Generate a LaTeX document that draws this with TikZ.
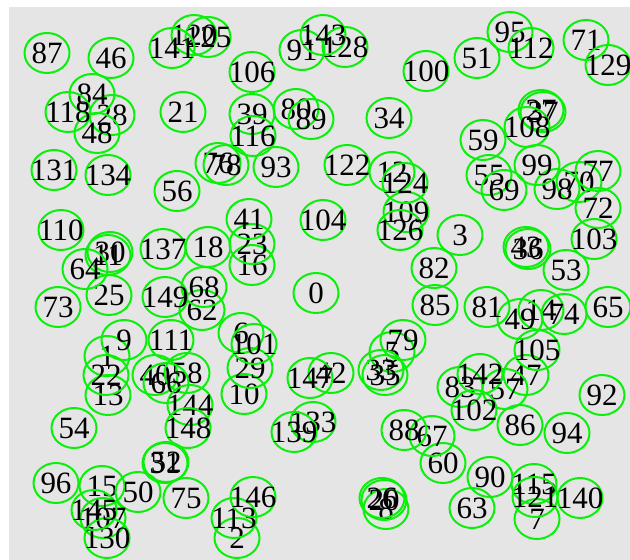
\documentclass[tikz,border=0pt]{standalone}
\usepackage{fontspec}
\setmainfont{Liberation Serif}
\definecolor{ringgreen}{RGB}{10,240,10}
\definecolor{paper}{RGB}{229,229,229}
\tikzset{
  lbl/.style={inner sep=0pt, font=\fontsize{31}{31}\selectfont},
  ring/.style={draw=ringgreen, line width=2pt}
}
\begin{document}
\begin{tikzpicture}[x=1pt,y=-1pt]
% Rahmen
\useasboundingbox (0,0) rectangle (630,560);
\fill[paper] (9,7) rectangle (630,560);

% Knoten
\foreach \n/\x/\y in {0/316/293, 1/107/356, 2/237/538, 3/460/235, 5/392/352, 6/241/333,
  7/537/519, 8/386/509, 9/124/340, 10/244/394, 11/108/255, 12/392/172, 13/108/395,
  14/541/310, 15/102/486, 16/252/265, 18/208/247, 20/384/500, 21/183/112, 22/106/375,
  23/252/244, 25/109/295, 26/382/498, 27/541/110, 28/112/115, 29/250/368, 30/110/252,
  31/165/463, 33/381/370, 34/389/118, 35/385/375, 36/528/249, 37/543/112, 39/252/114,
  40/155/375, 41/249/219, 42/331/373, 43/526/247, 46/111/58, 47/526/375, 48/97/133,
  49/520/319, 50/138/492, 51/477/58, 52/166/462, 53/566/270, 54/74/428, 55/489/175,
  56/177/191, 57/505/389, 58/187/373, 59/483/140, 60/443/463, 62/202/310, 63/472/508,
  64/85/269, 65/608/307, 66/166/383, 67/432/436, 68/204/287, 69/504/190, 70/579/182,
  71/586/40, 72/598/208, 73/58/307, 74/564/314, 75/186/498, 76/218/163, 77/598/171,
  78/226/165, 79/403/340, 80/296/109, 81/487/307, 82/434/268, 83/460/387, 84/92/94,
  85/435/305, 86/520/425, 87/47/53, 88/404/430, 89/311/119, 90/490/477, 91/302/50,
  92/602/395, 93/276/167, 94/567/433, 95/510/32, 96/56/483, 98/557/189, 99/537/165,
  100/426/71, 101/254/344, 102/474/410, 103/594/239, 104/323/220, 105/537/350,
  106/252/72, 107/103/518, 108/527/127, 109/406/212, 110/61/230, 111/171/340,
  112/531/48, 113/234/518, 115/534/484, 116/253/136, 118/68/112, 120/194/35,
  121/535/497, 122/347/165, 124/405/183, 125/208/37, 126/400/230, 128/345/47,
  129/608/65, 130/107/538, 131/54/170, 133/313/422, 134/108/175, 137/163/249,
  139/294/432, 140/580/498, 141/172/48, 142/480/374, 143/323/35, 144/190/405,
  145/94/510, 146/253/497, 147/310/378, 148/188/428, 149/165/297} {
  \draw[ring] (\x,\y) ellipse (22.5 and 20);
  \node[lbl] (v\n) at (\x,\y) {\n};
}
\end{tikzpicture}
\end{document}
